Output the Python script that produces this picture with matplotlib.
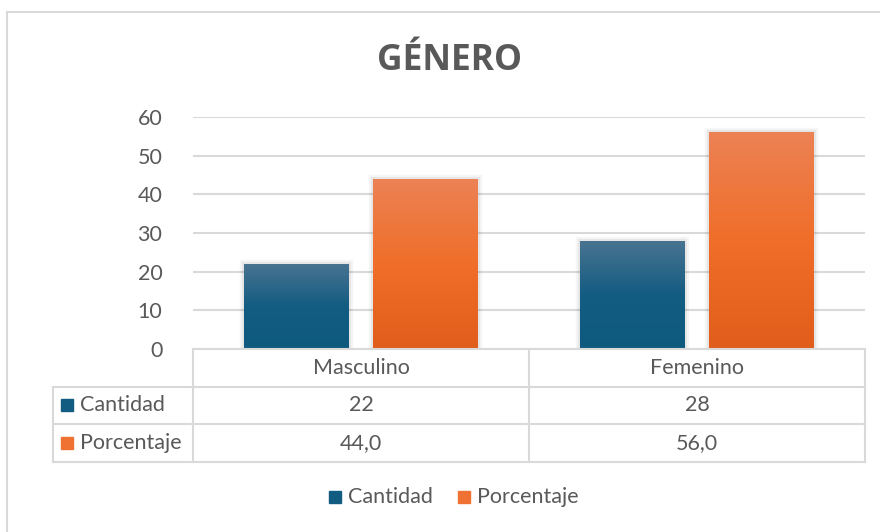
import numpy as np
import matplotlib
matplotlib.use("Agg")
import matplotlib.pyplot as plt
from matplotlib.colors import LinearSegmentedColormap

# data
categories = ["Masculino", "Femenino"]
series_names = ["Cantidad", "Porcentaje"]
cantidad = [22, 28]
porcentaje = [44.0, 56.0]
yticks = [0, 10, 20, 30, 40, 50, 60]
title = "GÉNERO"

plt.rcParams['font.family'] = ['Lato', 'DejaVu Sans']
txt = "#595959"
grid_c = "#d9d9d9"
fs = 15.5

W, H = 880, 532
fig = plt.figure(figsize=(W / 100, H / 100), dpi=100)


def fx(px):
    return px / W


def fy(py):
    return 1 - py / H


# outer border
fig.add_artist(plt.Line2D([fx(7), fx(7)], [fy(12), 0], color=grid_c, lw=1.5))
fig.add_artist(plt.Line2D([fx(7), 1], [fy(12), fy(12)], color=grid_c, lw=1.5))

fig.text(fx(449), fy(61), title, ha="center", va="center", fontsize=25.5,
         fontweight="bold", color=txt, family=["Open Sans", "DejaVu Sans"])

ax = fig.add_axes([fx(193), fy(349), fx(865) - fx(193), fy(117) - fy(349)])
ax.set_xlim(-0.5, 1.5)
ax.set_ylim(0, 60)
for s in ax.spines.values():
    s.set_visible(False)
ax.set_yticks(yticks)
ax.set_yticklabels([str(t) for t in yticks], fontsize=fs, color=txt)
ax.tick_params(axis="y", length=0, pad=22)
ax.set_xticks([])
ax.yaxis.grid(True, color=grid_c, lw=1.5)
ax.set_axisbelow(True)

blue_cmap = LinearSegmentedColormap.from_list("b", ["#0e5a7e", "#135c82", "#4a7491"])
orange_cmap = LinearSegmentedColormap.from_list("o", ["#e05d1b", "#f06e29", "#ec8255"])

x = np.arange(len(categories))
bw = 0.31
off = 0.192
grad = np.linspace(1, 0, 256).reshape(-1, 1)
for vals, dx, cmap in [(cantidad, -off, blue_cmap), (porcentaje, off, orange_cmap)]:
    # soft shadow
    ax.bar(x + dx, vals, bw, color="none", edgecolor=(0, 0, 0, 0.04), lw=6, zorder=2)
    ax.bar(x + dx, vals, bw, color="none", edgecolor=(0, 0, 0, 0.06), lw=3, zorder=2)
    bars = ax.bar(x + dx, vals, bw, color=cmap(0.5), zorder=3)
    for b in bars:
        x0, w, h = b.get_x(), b.get_width(), b.get_height()
        im = ax.imshow(grad, cmap=cmap, extent=[x0, x0 + w, 0, h], aspect="auto",
                       zorder=4, vmin=0, vmax=1)
        im.set_clip_path(b)
ax.set_xlim(-0.5, 1.5)
ax.set_ylim(0, 60)

# data table
lw = 1.5


def hline(x0, x1, y):
    fig.add_artist(plt.Line2D([fx(x0), fx(x1)], [fy(y), fy(y)], color=grid_c, lw=lw))


def vline(x, y0, y1):
    fig.add_artist(plt.Line2D([fx(x), fx(x)], [fy(y0), fy(y1)], color=grid_c, lw=lw))


hline(193, 865, 349)
hline(53, 865, 387)
hline(53, 865, 424)
hline(53, 865, 462)
vline(53, 387, 462)
vline(193, 349, 462)
vline(529, 349, 462)
vline(865, 349, 462)

col_centers = [361, 697]
for cx, name in zip(col_centers, categories):
    fig.text(fx(cx), fy(368), name, ha="center", va="center", fontsize=fs, color=txt)

rows = [(cantidad, "{:d}", 405), (porcentaje, "{:.1f}", 443)]
colors = [blue_cmap(0.4), orange_cmap(0.6)]
for (vals, fmt, ry), name, c in zip(rows, series_names, colors):
    fig.patches.append(plt.Rectangle((fx(61), fy(ry + 6)), fx(12), fy(0) - fy(12),
                                     transform=fig.transFigure, color=c))
    fig.text(fx(80), fy(ry), name, ha="left", va="center", fontsize=fs, color=txt)
    for cx, v in zip(col_centers, vals):
        s = fmt.format(v).replace(".", ",")
        fig.text(fx(cx), fy(ry), s, ha="center", va="center", fontsize=fs, color=txt)

# legend
for lx, name, c in [(329, series_names[0], colors[0]), (458, series_names[1], colors[1])]:
    fig.patches.append(plt.Rectangle((fx(lx), fy(503)), fx(12), fy(0) - fy(12),
                                     transform=fig.transFigure, color=c))
    fig.text(fx(lx + 19), fy(497), name, ha="left", va="center", fontsize=fs, color=txt)

fig.savefig("out.png", dpi=100)
